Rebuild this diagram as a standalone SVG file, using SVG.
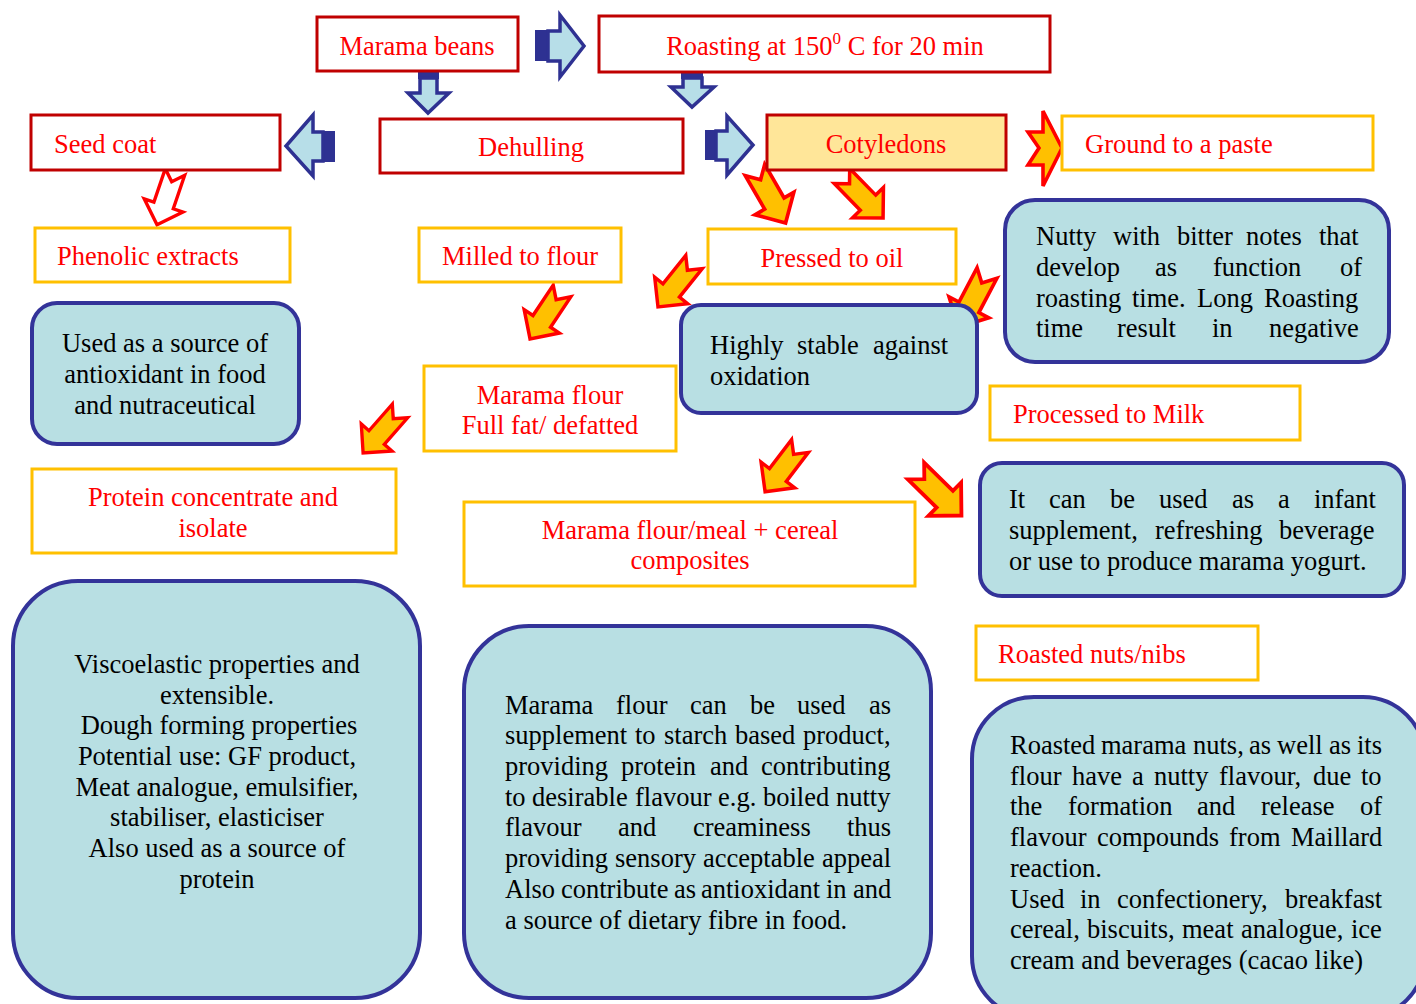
<svg xmlns="http://www.w3.org/2000/svg" xmlns:xlink="http://www.w3.org/1999/xlink" width="1416" height="1004" viewBox="0 0 1416 1004">
<style>
.rbox{fill:#fff;stroke:#C00000;stroke-width:3}
.ybox{fill:#fff;stroke:#FFC000;stroke-width:3}
.bbox{fill:#B8DFE3;stroke:#333399;stroke-width:4}
.lbl{font-family:"Liberation Serif","Times New Roman",serif;font-size:26.5px;fill:#FF0000}
.t{font-family:"Liberation Serif","Times New Roman",serif;font-size:26.5px;fill:#000}
.c{text-anchor:middle}
.barrow{fill:#B7DEE8;stroke:#2E3192;stroke-width:3.5;stroke-linejoin:miter}
.bblk{fill:#2E3192}
.oarrow{fill:#FFC000;stroke:#FF0000;stroke-width:3.6;stroke-linejoin:miter}
.harrow{fill:#fff;stroke:#FF0000;stroke-width:3.6;stroke-linejoin:miter}
</style>
<defs>
<polygon id="notch" points="0,-11 38,-11 38,-22 60,0 38,22 38,11 0,11 11,0"/>
</defs>
<rect width="1416" height="1004" fill="#fff"/>

<g id="connectors">
  <rect class="bblk" x="535" y="30" width="13" height="31"/>
  <polygon class="barrow" points="548,31 560,31 560,15 584,46 560,77 560,61 548,61"/>
  <rect class="bblk" x="418" y="68" width="21" height="11"/>
  <polygon class="barrow" points="420,78 437,78 437,93 449,93 428,113 408,93 420,93"/>
  <rect class="bblk" x="681" y="69" width="22" height="10"/>
  <polygon class="barrow" points="683,78 702,78 702,87 714,87 692,107 671,87 683,87"/>
  <rect class="bblk" x="323" y="131" width="12" height="31"/>
  <polygon class="barrow" points="323,132 313,132 313,115 286,146 313,176 313,161 323,161"/>
  <rect class="bblk" x="705" y="130" width="11" height="30"/>
  <polygon class="barrow" points="716,131 727,131 727,116 753,145 727,175 727,160 716,160"/>

  <use xlink:href="#notch" class="harrow" transform="translate(175,172) rotate(108.8) scale(0.93)"/>
  <use xlink:href="#notch" class="oarrow" transform="translate(562,291) rotate(123.7) scale(0.96)"/>
  <use xlink:href="#notch" class="oarrow" transform="translate(694,262) rotate(128.7) scale(0.96)"/>
  <use xlink:href="#notch" class="oarrow" transform="translate(755,170) rotate(60) scale(1.02)"/>
  <use xlink:href="#notch" class="oarrow" transform="translate(842,176) rotate(45.7) scale(0.98)"/>
  <polygon class="oarrow" points="1028,132 1043,132 1043,111 1062,148 1043,186 1043,165 1028,165 1039,148"/>
  <use xlink:href="#notch" class="oarrow" transform="translate(987,273) rotate(117.8) scale(1.02)"/>
  <use xlink:href="#notch" class="oarrow" transform="translate(800,446) rotate(127.3) scale(0.96)"/>
  <use xlink:href="#notch" class="oarrow" transform="translate(916,471) rotate(44.4) scale(1.06)"/>
  <use xlink:href="#notch" class="oarrow" transform="translate(400,411) rotate(131.4) scale(0.93)"/>
</g>

<g id="marama-beans">
  <rect class="rbox" x="317" y="17" width="201" height="54"/>
  <text class="lbl c" x="417" y="55">Marama beans</text>
</g>
<g id="roasting">
  <rect class="rbox" x="599" y="16" width="451" height="56"/>
  <text class="lbl c" x="825" y="55">Roasting at 150<tspan font-size="17" dy="-11">0</tspan><tspan dy="11"> C for 20 min</tspan></text>
</g>
<g id="seed-coat">
  <rect class="rbox" x="31" y="115" width="249" height="55"/>
  <text class="lbl" x="54" y="153">Seed coat</text>
</g>
<g id="dehulling">
  <rect class="rbox" x="380" y="119" width="303" height="54"/>
  <text class="lbl c" x="531" y="156">Dehulling</text>
</g>
<g id="cotyledons">
  <rect class="rbox" x="767" y="115" width="239" height="55" style="fill:#FFE699"/>
  <text class="lbl c" x="886" y="153">Cotyledons</text>
</g>
<g id="ground-paste">
  <rect class="ybox" x="1062" y="116" width="311" height="54"/>
  <text class="lbl" x="1085" y="153">Ground to a paste</text>
</g>
<g id="phenolic">
  <rect class="ybox" x="35" y="228" width="255" height="54"/>
  <text class="lbl" x="57" y="265">Phenolic extracts</text>
</g>
<g id="milled">
  <rect class="ybox" x="419" y="228" width="202" height="54"/>
  <text class="lbl c" x="520" y="265">Milled to flour</text>
</g>
<g id="pressed">
  <rect class="ybox" x="708" y="229" width="248" height="55"/>
  <text class="lbl c" x="832" y="267">Pressed to oil</text>
</g>
<g id="nutty">
  <rect class="bbox" x="1005" y="200" width="384" height="162" rx="30"/>
  <text class="t" y="245"><tspan x="1036">Nutty</tspan><tspan x="1113">with</tspan><tspan x="1177">bitter</tspan><tspan x="1246">notes</tspan><tspan x="1319">that</tspan></text>
  <text class="t" y="276"><tspan x="1036">develop</tspan><tspan x="1155">as</tspan><tspan x="1213">function</tspan><tspan x="1340">of</tspan></text>
  <text class="t" y="307"><tspan x="1036">roasting</tspan><tspan x="1132">time.</tspan><tspan x="1197">Long</tspan><tspan x="1264">Roasting</tspan></text>
  <text class="t" y="337"><tspan x="1036">time</tspan><tspan x="1117">result</tspan><tspan x="1212">in</tspan><tspan x="1269">negative</tspan></text>
</g>
<g id="antioxidant">
  <rect class="bbox" x="32" y="303" width="267" height="141" rx="25"/>
  <text class="t c" x="165" y="352">Used as a source of</text>
  <text class="t c" x="165" y="383">antioxidant in food</text>
  <text class="t c" x="165" y="414">and nutraceutical</text>
</g>
<g id="stable">
  <rect class="bbox" x="681" y="305" width="296" height="108" rx="20"/>
  <text class="t" y="354"><tspan x="710">Highly</tspan><tspan x="797">stable</tspan><tspan x="873">against</tspan></text>
  <text class="t" x="710" y="385">oxidation</text>
</g>
<g id="marama-flour">
  <rect class="ybox" x="424" y="366" width="252" height="85"/>
  <text class="lbl c" x="550" y="404">Marama flour</text>
  <text class="lbl c" x="550" y="434">Full fat/ defatted</text>
</g>
<g id="milk">
  <rect class="ybox" x="990" y="386" width="310" height="54"/>
  <text class="lbl" x="1013" y="423">Processed to Milk</text>
</g>
<g id="protein">
  <rect class="ybox" x="32" y="469" width="364" height="84"/>
  <text class="lbl c" x="213" y="506">Protein concentrate and</text>
  <text class="lbl c" x="213" y="537">isolate</text>
</g>
<g id="composites">
  <rect class="ybox" x="464" y="502" width="451" height="84"/>
  <text class="lbl c" x="690" y="539">Marama flour/meal + cereal</text>
  <text class="lbl c" x="690" y="569">composites</text>
</g>
<g id="milk-use">
  <rect class="bbox" x="980" y="463" width="424" height="133" rx="22"/>
  <text class="t" y="508"><tspan x="1009">It</tspan><tspan x="1049">can</tspan><tspan x="1110">be</tspan><tspan x="1159">used</tspan><tspan x="1232">as</tspan><tspan x="1278">a</tspan><tspan x="1314">infant</tspan></text>
  <text class="t" y="539"><tspan x="1009">supplement,</tspan><tspan x="1155">refreshing</tspan><tspan x="1279">beverage</tspan></text>
  <text class="t" x="1009" y="570">or use to produce marama yogurt.</text>
</g>
<g id="viscoelastic">
  <rect class="bbox" x="13" y="581" width="407" height="417" rx="65"/>
  <text class="t c" x="217" y="673">Viscoelastic properties and</text>
  <text class="t c" x="217" y="704">extensible.</text>
  <text class="t c" x="219" y="734">Dough forming properties</text>
  <text class="t c" x="217" y="765">Potential use: GF product,</text>
  <text class="t c" x="217" y="796">Meat analogue, emulsifier,</text>
  <text class="t c" x="217" y="826">stabiliser, elasticiser</text>
  <text class="t c" x="217" y="857">Also used as a source of</text>
  <text class="t c" x="217" y="888">protein</text>
</g>
<g id="flour-use">
  <rect class="bbox" x="464" y="626" width="467" height="372" rx="65"/>
  <text class="t" y="714"><tspan x="505">Marama</tspan><tspan x="616">flour</tspan><tspan x="690">can</tspan><tspan x="750">be</tspan><tspan x="797">used</tspan><tspan x="869">as</tspan></text>
  <text class="t" y="744"><tspan x="505">supplement</tspan><tspan x="635">to</tspan><tspan x="664">starch</tspan><tspan x="735">based</tspan><tspan x="803">product,</tspan></text>
  <text class="t" y="775"><tspan x="505">providing</tspan><tspan x="621">protein</tspan><tspan x="710">and</tspan><tspan x="761">contributing</tspan></text>
  <text class="t" y="806"><tspan x="505">to</tspan><tspan x="532">desirable</tspan><tspan x="635">flavour</tspan><tspan x="718">e.g.</tspan><tspan x="763">boiled</tspan><tspan x="836">nutty</tspan></text>
  <text class="t" y="836"><tspan x="505">flavour</tspan><tspan x="618">and</tspan><tspan x="693">creaminess</tspan><tspan x="847">thus</tspan></text>
  <text class="t" y="867"><tspan x="505">providing</tspan><tspan x="615">sensory</tspan><tspan x="703">acceptable</tspan><tspan x="822">appeal</tspan></text>
  <text class="t" y="898"><tspan x="505">Also</tspan><tspan x="561">contribute</tspan><tspan x="674">as</tspan><tspan x="701">antioxidant</tspan><tspan x="826">in</tspan><tspan x="853">and</tspan></text>
  <text class="t" x="505" y="929">a source of dietary fibre in food.</text>
</g>
<g id="roasted-nuts">
  <rect class="ybox" x="976" y="626" width="282" height="54"/>
  <text class="lbl" x="998" y="663">Roasted nuts/nibs</text>
</g>
<g id="roasted-use">
  <rect class="bbox" x="972" y="697" width="453" height="321" rx="62"/>
  <text class="t" y="754"><tspan x="1010">Roasted</tspan><tspan x="1101">marama</tspan><tspan x="1193">nuts,</tspan><tspan x="1249">as</tspan><tspan x="1277">well</tspan><tspan x="1329">as</tspan><tspan x="1357">its</tspan></text>
  <text class="t" y="785"><tspan x="1010">flour</tspan><tspan x="1072">have</tspan><tspan x="1132">a</tspan><tspan x="1154">nutty</tspan><tspan x="1219">flavour,</tspan><tspan x="1313">due</tspan><tspan x="1361">to</tspan></text>
  <text class="t" y="815"><tspan x="1010">the</tspan><tspan x="1068">formation</tspan><tspan x="1197">and</tspan><tspan x="1261">release</tspan><tspan x="1360">of</tspan></text>
  <text class="t" y="846"><tspan x="1010">flavour</tspan><tspan x="1097">compounds</tspan><tspan x="1229">from</tspan><tspan x="1291">Maillard</tspan></text>
  <text class="t" x="1010" y="877">reaction.</text>
  <text class="t" y="908"><tspan x="1010">Used</tspan><tspan x="1080">in</tspan><tspan x="1117">confectionery,</tspan><tspan x="1285">breakfast</tspan></text>
  <text class="t" y="938"><tspan x="1010">cereal,</tspan><tspan x="1087">biscuits,</tspan><tspan x="1182">meat</tspan><tspan x="1241">analogue,</tspan><tspan x="1351">ice</tspan></text>
  <text class="t" x="1010" y="969">cream and beverages (cacao like)</text>
</g>
</svg>
